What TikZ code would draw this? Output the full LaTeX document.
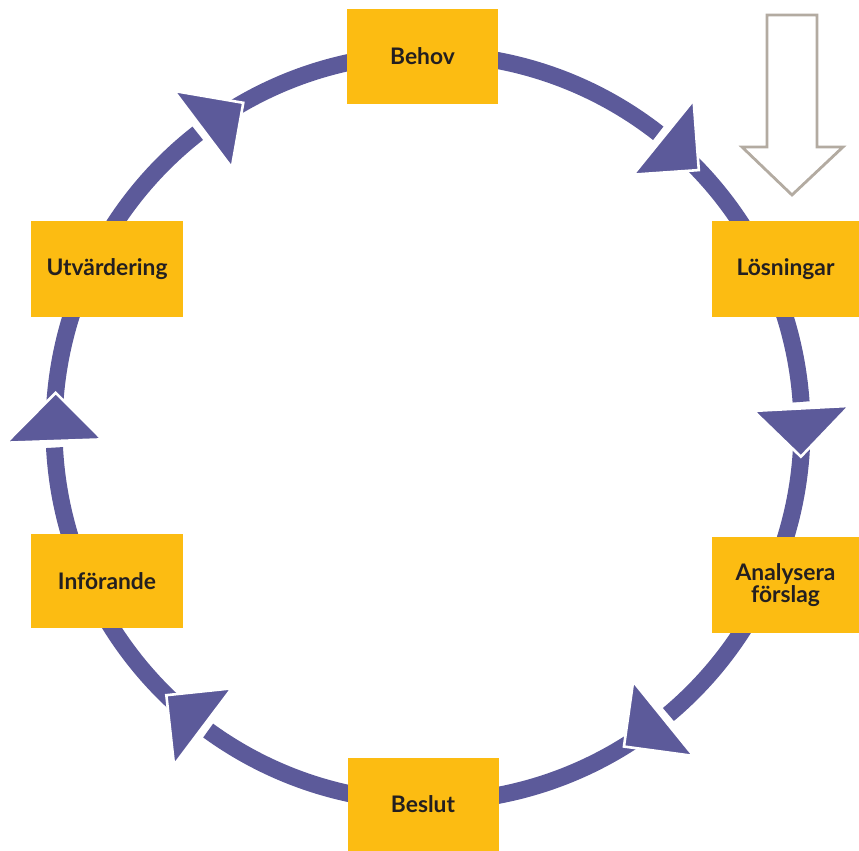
\documentclass[tikz,border=0pt]{standalone}
\usepackage{fontspec}
\setmainfont{Lato}
\definecolor{ringblue}{HTML}{5C5A9A}
\definecolor{stagefill}{HTML}{FCBC12}
\definecolor{inkdark}{HTML}{231F20}
\definecolor{outlinegrey}{HTML}{B3ABA1}
\begin{document}
\begin{tikzpicture}[x=0.5pt,y=0.5pt,
  stage/.style={fill=stagefill, minimum width=75.5pt, minimum height=47.5pt,
    inner sep=0pt, text=inkdark, align=center,
    font=\bfseries\fontsize{11.4}{11.2}\selectfont},
  ringline/.style={draw=ringblue, line width=8.5pt},
  head/.style={fill=ringblue, draw=white, line width=1.3pt, line join=miter},
  hollowarrow/.style={draw=outlinegrey, line width=1.4pt, line join=miter}]
\useasboundingbox (0,0) rectangle (859,851);
\coordinate (c) at (428,423);
% ring segments, each ending just short of the next arrowhead base
\foreach \a/\b in {127/51, 51/3, 3/-51, -51/-127, -127/-178, -178/-233} {
  \pgfmathsetmacro\e{\b+1}
  \draw[ringline, shift={(c)}] (\a:187pt) arc[start angle=\a, end angle=\e, radius=187pt];
}
% arrowheads pointing clockwise
\foreach \a in {127, 51, 3, -51, -127, 182} {
  \pgfmathsetmacro\t{\a-7.4}
  \path[head, shift={(c)}] (\a:163pt) -- (\a:211pt) -- (\t:187pt) -- cycle;
}
% stages
\node[stage] (behov) at (422.5,794.5) {Behov};
\node[stage, minimum width=73.5pt, minimum height=48pt] (losningar) at (785.5,582) {Lösningar};
\node[stage, minimum width=73.5pt, minimum height=48pt] (analysera) at (785.5,266) {Analysera\\förslag};
\node[stage, minimum height=46.5pt] (beslut) at (423,46.5) {Beslut};
\node[stage, minimum width=76pt, minimum height=47pt] (inforande) at (107,270) {Införande};
\node[stage, minimum width=76pt, minimum height=48pt] (utvardering) at (107,582) {Utvärdering};
% hollow input arrow
\draw[hollowarrow] (767,836) -- (817,836) -- (817,704) -- (843,704) -- (792,656)
  -- (742,704) -- (767,704) -- cycle;
\end{tikzpicture}
\end{document}
